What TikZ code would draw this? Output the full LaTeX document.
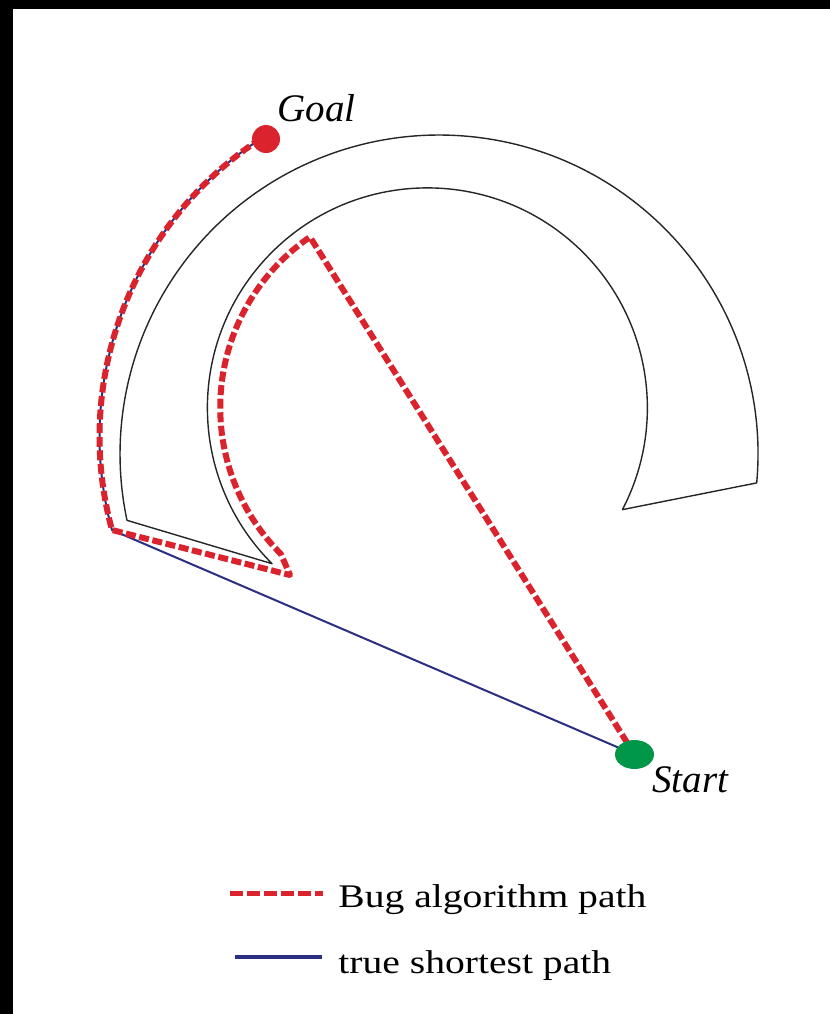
\documentclass[tikz,border=0pt]{standalone}
\usepackage{fontspec}
\setmainfont{Liberation Serif}
\newfontfamily\legendfont{Liberation Serif}[FakeStretch=1.2]
\usetikzlibrary{shapes.geometric,positioning}
\definecolor{bugred}{RGB}{218,35,45}
\definecolor{pathblue}{RGB}{43,47,130}
\definecolor{startgreen}{RGB}{0,152,72}

\begin{document}
\begin{tikzpicture}[x=0.5pt,y=-0.5pt]
\tikzset{
  obstacle/.style={draw=black!85,line width=0.7pt,line join=round},
  bugpath/.style={draw=bugred,line width=3pt,dash pattern=on 5pt off 1.8pt,line join=round},
  shortpath/.style={draw=pathblue,line width=1pt,line join=round},
  goalnode/.style={circle,fill=bugred,minimum size=14pt,inner sep=0pt},
  startnode/.style={ellipse,fill=startgreen,minimum width=19.5pt,minimum height=14.5pt,inner sep=0pt},
  marklabel/.style={font=\fontsize{19.5}{22}\selectfont\itshape,inner sep=0pt,anchor=base west},
  legendtext/.style={font=\legendfont\fontsize{16.5}{20}\selectfont,inner sep=0pt,anchor=base west},
  bugkey/.style={draw=bugred,line width=2.5pt,dash pattern=on 6.5pt off 2pt},
  shortkey/.style={draw=pathblue,line width=2pt}
}
\useasboundingbox (0,0) rectangle (830,1014);
\fill[white] (0,0) rectangle (830,1014);
\fill[black] (0,0) rectangle (830,9);
\fill[black] (0,0) rectangle (13,1014);
% points of the scene
\coordinate (n_start) at (634.5,754.5);
\coordinate (n_goal) at (266,139);
\coordinate (n_hit) at (310,237);
\coordinate (n_tip) at (290,575);
\coordinate (n_corner) at (112,530);
\coordinate (n_outerend) at (756.7,482.9);
\coordinate (n_innerend) at (272.1,563.7);
% C-shaped obstacle
\draw[obstacle] (n_outerend) arc[start angle=5.2,end angle=-192,radius=319]
  -- (n_innerend) arc[start angle=134.9,end angle=387.55,radius=220] -- cycle;
% paths
\draw[shortpath] (n_start) -- (n_corner) arc[start angle=164.8,end angle=237,radius=356];
\draw[bugpath] (n_start) -- (n_hit) arc[start angle=235.5,end angle=135,radius=207]
  -- (n_tip) -- (n_corner) arc[start angle=164.8,end angle=237,radius=356];
\node[startnode] (n_startmark) at (n_start) {};
\node[goalnode] (n_goalmark) at (n_goal) {};
\node[marklabel] (n_goallabel) at (277,121) {Goal};
\node[marklabel] (n_startlabel) at (652,792) {Start};
% legend
\node[legendtext] (n_bugtext) at (338,907) {Bug algorithm path};
\node[legendtext] (n_shorttext) at (338,973) {true shortest path};
\coordinate (n_bugkey) at (230,893);
\coordinate (n_bugkeyend) at (323,893);
\coordinate (n_shortkey) at (235,957);
\coordinate (n_shortkeyend) at (322,957);
\draw[bugkey] (n_bugkey) -- (n_bugkeyend);
\draw[shortkey] (n_shortkey) -- (n_shortkeyend);
\end{tikzpicture}
\end{document}
